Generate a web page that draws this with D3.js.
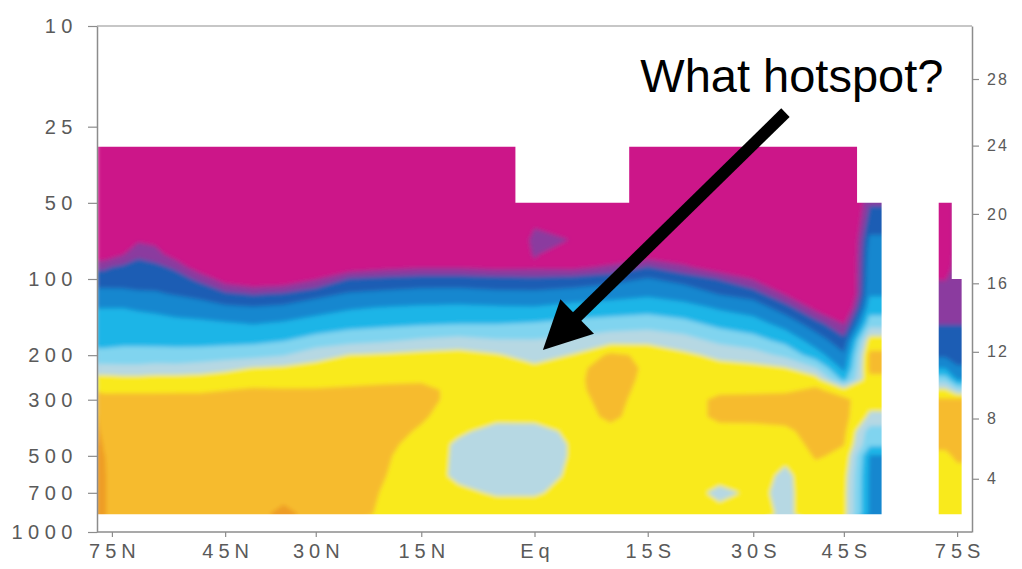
<!DOCTYPE html>
<html><head><meta charset="utf-8">
<script src="https://cdn.jsdelivr.net/npm/d3@7"></script>
<style>html,body{margin:0;padding:0;background:#fff;} svg{display:block}</style>
</head><body>
<svg id="chart" width="1022" height="569"></svg>
<script>
// ---------------- data ----------------
const latitudes = [90,80,70,65,60,55,50,45,40,35,30,25,20,15,10,5,0,-5,-10,-15,-20,-25,-30,-35,-40,-45,-50,-55,-60,-65,-70,-75,-80];
const pressureLevels = [30,40,50,60,70,80,90,100,115,130,150,175,200,225,250,275,300,350,400,450,500,600,700,850];
// temperature trend (K/decade) per latitude column, one value per pressure level
const trend = [
 [-0.85,-0.85,-0.85,-0.85,-0.83,-0.68,-0.52,-0.445,-0.37,-0.302,-0.264,-0.225,-0.179,-0.067,0.04,0.09,0.15,0.205,0.25,0.3,0.3,0.3,0.3,0.3],
 [-0.85,-0.85,-0.85,-0.85,-0.83,-0.68,-0.52,-0.445,-0.37,-0.302,-0.264,-0.225,-0.179,-0.067,0.04,0.09,0.117,0.152,0.17,0.19,0.205,0.21,0.21,0.21],
 [-0.85,-0.85,-0.85,-0.85,-0.75,-0.605,-0.477,-0.437,-0.378,-0.302,-0.262,-0.221,-0.169,-0.075,0.033,0.089,0.12,0.15,0.15,0.15,0.15,0.15,0.15,0.15],
 [-0.85,-0.85,-0.85,-0.85,-0.62,-0.517,-0.469,-0.436,-0.389,-0.311,-0.265,-0.222,-0.169,-0.075,0.033,0.089,0.12,0.15,0.15,0.15,0.15,0.15,0.15,0.15],
 [-0.85,-0.85,-0.85,-0.85,-0.64,-0.55,-0.474,-0.438,-0.39,-0.32,-0.268,-0.224,-0.167,-0.0625,0.037,0.089,0.12,0.15,0.15,0.15,0.15,0.15,0.15,0.15],
 [-0.85,-0.85,-0.85,-0.85,-0.82,-0.67,-0.517,-0.461,-0.407,-0.34,-0.276,-0.226,-0.169,-0.067,0.04,0.09,0.12,0.15,0.15,0.15,0.15,0.15,0.15,0.15],
 [-0.85,-0.85,-0.85,-0.85,-0.85,-0.8,-0.68,-0.52,-0.43,-0.356,-0.281,-0.228,-0.164,-0.05,0.04,0.09,0.12,0.15,0.15,0.15,0.15,0.15,0.15,0.15],
 [-0.85,-0.85,-0.85,-0.85,-0.85,-0.85,-0.78,-0.66,-0.473,-0.382,-0.292,-0.227,-0.15,-0.025,0.05,0.098,0.13,0.15,0.15,0.15,0.15,0.15,0.15,0.15],
 [-0.85,-0.85,-0.85,-0.85,-0.85,-0.85,-0.83,-0.71,-0.505,-0.394,-0.306,-0.224,-0.136,0.003,0.06,0.11,0.13,0.15,0.15,0.15,0.15,0.15,0.15,0.15],
 [-0.85,-0.85,-0.85,-0.85,-0.85,-0.85,-0.81,-0.69,-0.483,-0.378,-0.29,-0.205,-0.107,0.017,0.067,0.105,0.13,0.15,0.15,0.15,0.15,0.15,0.15,0.24],
 [-0.85,-0.85,-0.85,-0.85,-0.85,-0.85,-0.73,-0.61,-0.429,-0.344,-0.26,-0.164,-0.0375,0.033,0.073,0.105,0.13,0.15,0.15,0.15,0.15,0.15,0.15,0.15],
 [-0.85,-0.85,-0.85,-0.85,-0.85,-0.8,-0.67,-0.493,-0.389,-0.311,-0.236,-0.136,0.003,0.044,0.081,0.11,0.13,0.15,0.15,0.15,0.15,0.15,0.15,0.14],
 [-0.85,-0.85,-0.85,-0.85,-0.85,-0.75,-0.63,-0.473,-0.376,-0.296,-0.226,-0.115,0.014,0.05,0.083,0.12,0.14,0.14,0.13,0.12,0.11,0.102,0.09,0.08],
 [-0.85,-0.85,-0.85,-0.85,-0.85,-0.73,-0.61,-0.456,-0.365,-0.286,-0.214,-0.0875,0.03,0.06,0.09,0.12,0.12,0.11,0.09,0.07,0.06,0.05,0.05,0.05],
 [-0.85,-0.85,-0.85,-0.85,-0.85,-0.73,-0.61,-0.456,-0.363,-0.281,-0.205,-0.07,0.04,0.06,0.07,0.08,0.08,0.06,0.02,-0.02,-0.02,-0.02,0.02,0.05],
 [-0.85,-0.85,-0.85,-0.85,-0.85,-0.75,-0.63,-0.469,-0.375,-0.289,-0.205,-0.093,0.01,0.05,0.06,0.06,0.05,0.03,-0.04,-0.06,-0.06,-0.05,-0.01,0.05],
 [-0.85,-0.85,-0.8,-0.62,-0.56,-0.59,-0.62,-0.479,-0.376,-0.294,-0.194,-0.096,-0.04,0.02,0.05,0.05,0.05,0.04,-0.05,-0.06,-0.06,-0.05,-0.01,0.05],
 [-0.85,-0.85,-0.8,-0.72,-0.605,-0.68,-0.63,-0.464,-0.357,-0.267,-0.175,-0.074,0.005,0.06,0.07,0.07,0.06,0.05,0.03,0.01,0.01,0.02,0.03,0.05],
 [-0.85,-0.85,-0.8,-0.8,-0.77,-0.71,-0.575,-0.436,-0.3375,-0.256,-0.157,-0.04,0.12,0.16,0.16,0.15,0.14,0.12,0.07,0.05,0.05,0.05,0.05,0.05],
 [-0.85,-0.85,-0.85,-0.85,-0.82,-0.67,-0.492,-0.395,-0.316,-0.242,-0.143,-0.031,0.08,0.08,0.07,0.06,0.05,0.05,0.05,0.05,0.05,0.05,0.05,0.05],
 [-0.85,-0.85,-0.85,-0.85,-0.85,-0.71,-0.575,-0.436,-0.344,-0.267,-0.173,-0.06,0.02,0.05,0.05,0.05,0.06,0.06,0.05,0.05,0.05,0.05,0.05,0.05],
 [-0.85,-0.85,-0.85,-0.85,-0.85,-0.8,-0.68,-0.505,-0.405,-0.3125,-0.23,-0.127,-0.023,0.03,0.05,0.08,0.12,0.12,0.07,0.05,0.05,0.04,-0.03,0.04],
 [-0.85,-0.85,-0.85,-0.85,-0.85,-0.85,-0.73,-0.61,-0.44,-0.35,-0.26,-0.164,-0.058,0.03,0.05,0.07,0.14,0.13,0.06,0.05,0.05,0.04,0.02,0.04],
 [-0.85,-0.85,-0.85,-0.85,-0.85,-0.85,-0.85,-0.76,-0.61,-0.45,-0.343,-0.231,-0.125,0.005,0.05,0.08,0.14,0.13,0.08,0.05,0.02,-0.02,-0.02,-0.02],
 [-0.85,-0.85,-0.85,-0.85,-0.85,-0.85,-0.85,-0.85,-0.78,-0.64,-0.457,-0.35,-0.258,-0.098,0.05,0.12,0.15,0.15,0.14,0.13,0.11,0.06,0.05,0.05],
 [-0.85,-0.85,-0.85,-0.85,-0.85,-0.85,-0.85,-0.85,-0.85,-0.77,-0.61,-0.465,-0.3875,-0.333,-0.233,0.04,0.12,0.13,0.12,0.102,0.08,0.04,0.03,0.03],
 [-0.51,-0.51,-0.51,-0.45,-0.38,-0.35,-0.34,-0.33,-0.31,-0.25,-0.15,0.05,0.12,0.12,0.08,0.05,0.04,-0.02,-0.15,-0.18,-0.31,-0.32,-0.32,-0.32],
 [-0.51,-0.51,-0.51,-0.45,-0.38,-0.35,-0.34,-0.33,-0.31,-0.25,-0.15,0.05,0.12,0.12,0.08,0.05,0.04,-0.02,-0.15,-0.18,-0.31,-0.32,-0.32,-0.32],
 [-0.51,-0.51,-0.51,-0.45,-0.38,-0.35,-0.34,-0.33,-0.31,-0.25,-0.15,0.05,0.12,0.12,0.08,0.05,0.04,-0.02,-0.15,-0.18,-0.31,-0.32,-0.32,-0.32],
 [-0.7,-0.7,-0.7,-0.7,-0.7,-0.68,-0.65,-0.605,-0.55,-0.53,-0.505,-0.45,-0.42,-0.305,-0.15,0.02,0.11,0.15,0.15,0.12,0.08,0.05,0.04,0.04],
 [-0.7,-0.7,-0.7,-0.7,-0.7,-0.68,-0.65,-0.605,-0.55,-0.53,-0.505,-0.45,-0.42,-0.305,-0.15,0.02,0.11,0.15,0.15,0.12,0.08,0.05,0.04,0.04],
 [-0.55,-0.55,-0.55,-0.55,-0.55,-0.55,-0.55,-0.55,-0.55,-0.53,-0.505,-0.45,-0.42,-0.395,-0.305,-0.095,0.12,0.18,0.18,0.16,0.12,0.06,0.04,0.04],
 [-0.55,-0.55,-0.55,-0.55,-0.55,-0.55,-0.55,-0.55,-0.55,-0.53,-0.505,-0.45,-0.42,-0.395,-0.305,-0.095,0.12,0.18,0.18,0.16,0.12,0.06,0.04,0.04]
];
const bandThresholds = [-10,-0.6,-0.5,-0.4,-0.3,-0.2,-0.1,0,0.1,0.2,0.3];
const bandColors = ["#cc1289","#8b3b9f","#1d5db4","#1787cf","#1bb5e7","#80d4ef","#b6d8e3","#f9ea1f","#f6bb2f","#ee9d25","#e3821c"];
// data coverage (latitude bands with their top pressure)
const coverageFrom = [90, 2.5, -12.5, -47.5, -67.5, -72.5];
const coverageTo   = [2.5, -12.5, -47.5, -52.5, -72.5, -77.5];
const coverageTop  = [30, 50, 30, 50, 50, 100];
const coverageBottom = 850;
// axes
const pressureTicks = [10,25,50,100,200,300,500,700,1000];
const heightTicks = [4,8,12,16,20,24,28];
const heightTickPressures = [616,356,194,104,55.3,29.7,16.2];
const latTicks = [75,45,30,15,0,-15,-30,-45,-75];
const latTickLabels = ["75N","45N","30N","15N","Eq","15S","30S","45S","75S"];
// annotation
const noteText = "What hotspot?";
const noteAt = {lat:-14, p:18.2};
const arrowFrom = {lat:-35, p:22};
const arrowTo = {lat:-1.1, p:191};

// ---------------- drawing ----------------
const svg = d3.select("#chart");
const L = 97, R = 972, T = 26, B = 532;
const xs = d3.scaleLinear().domain([1,-1]).range([L,R]);
const xl = lat => xs(Math.sin(lat*Math.PI/180));
const y = d3.scaleLog().domain([10,1000]).range([T,B]);

const defs = svg.append("defs");
const clip = defs.append("clipPath").attr("id","cov");
coverageFrom.forEach((f,i)=>{
  clip.append("rect")
    .attr("x", xl(f)).attr("width", xl(coverageTo[i]) - xl(f))
    .attr("y", y(coverageTop[i])).attr("height", y(coverageBottom) - y(coverageTop[i]));
});
const filt = defs.append("filter").attr("id","soft").attr("x","-5%").attr("y","-5%").attr("width","110%").attr("height","110%");
filt.append("feGaussianBlur").attr("stdDeviation",1.9);

const n = latitudes.length, m = pressureLevels.length;
const values = new Array(n*m);
for (let j=0;j<m;j++) for (let i=0;i<n;i++) values[j*n+i] = trend[i][j];
const contours = d3.contours().size([n,m]).thresholds(bandThresholds)(values);
const logP = pressureLevels.map(Math.log10);
function interp(arr, t){
  const k = Math.max(0, Math.min(arr.length-2, Math.floor(t)));
  return arr[k] + (t-k)*(arr[k+1]-arr[k]);
}
const px = c => { let lat = interp(latitudes, c-0.5); lat = Math.max(-90, Math.min(90, lat)); return xl(lat); };
const py = c => y(Math.pow(10, interp(logP, c-0.5)));
const path = d3.geoPath(d3.geoTransform({point(a,b){ this.stream.point(px(a), py(b)); }}));

svg.append("g").attr("clip-path","url(#cov)")
  .append("g").attr("filter","url(#soft)")
  .selectAll("path").data(contours).join("path")
  .attr("d", path)
  .attr("fill", (d,i)=>bandColors[i])
  .attr("stroke", (d,i)=>bandColors[i]).attr("stroke-width",0.5);

// frame top
svg.append("line").attr("x1",L).attr("x2",R).attr("y1",T).attr("y2",T)
  .attr("stroke","#b5b5b5").attr("stroke-width",1.5);

const font = "'Liberation Sans', Arial, sans-serif";
function styleAxis(g, size, ls){
  g.select(".domain").attr("stroke","#8c8c8c").attr("stroke-width",1.5);
  g.selectAll(".tick line").attr("stroke","#8c8c8c").attr("stroke-width",1.2);
  g.selectAll("text").attr("fill","#5a5a5a").style("font-family",font)
    .style("font-size",size+"px").style("letter-spacing",ls+"px");
}
const gl = svg.append("g").attr("transform",`translate(${L},0)`)
  .call(d3.axisLeft(y).tickValues(pressureTicks).tickFormat(d3.format("d")).tickSize(9).tickPadding(10).tickSizeOuter(0));
styleAxis(gl, 20, 5.5);

const gr = svg.append("g").attr("transform",`translate(${R},0)`)
  .call(d3.axisRight(y).tickValues(heightTickPressures).tickFormat((d,i)=>heightTicks[i]).tickSize(7).tickPadding(8).tickSizeOuter(0));
styleAxis(gr, 16, 2);

const gb = svg.append("g").attr("transform",`translate(0,${B})`)
  .call(d3.axisBottom(xs).tickValues(latTicks.map(l=>Math.sin(l*Math.PI/180))).tickFormat((d,i)=>latTickLabels[i]).tickSize(5).tickPadding(7).tickSizeOuter(0));
gb.select(".domain").attr("d", `M${L},0H${R}`);
styleAxis(gb, 20, 5);
gb.selectAll(".tick text").attr("dx", 2.5);

// annotation
svg.append("text").attr("x", xl(noteAt.lat)).attr("y", y(noteAt.p))
  .style("font-family",font).style("font-size","47px").attr("fill","#000").text(noteText);
const x0 = xl(arrowFrom.lat), y0 = y(arrowFrom.p), x1 = xl(arrowTo.lat), y1 = y(arrowTo.p);
const dx = x1-x0, dy = y1-y0, len = Math.hypot(dx,dy), ux = dx/len, uy = dy/len;
const headL = 48, headW = 24;
const bx = x1 - ux*headL, by = y1 - uy*headL;
svg.append("line").attr("x1",x0).attr("y1",y0).attr("x2",bx+ux*4).attr("y2",by+uy*4)
  .attr("stroke","#000").attr("stroke-width",12);
svg.append("path").attr("d", `M${x1},${y1}L${bx-uy*headW},${by+ux*headW}L${bx+uy*headW},${by-ux*headW}Z`).attr("fill","#000");
</script>
</body></html>
